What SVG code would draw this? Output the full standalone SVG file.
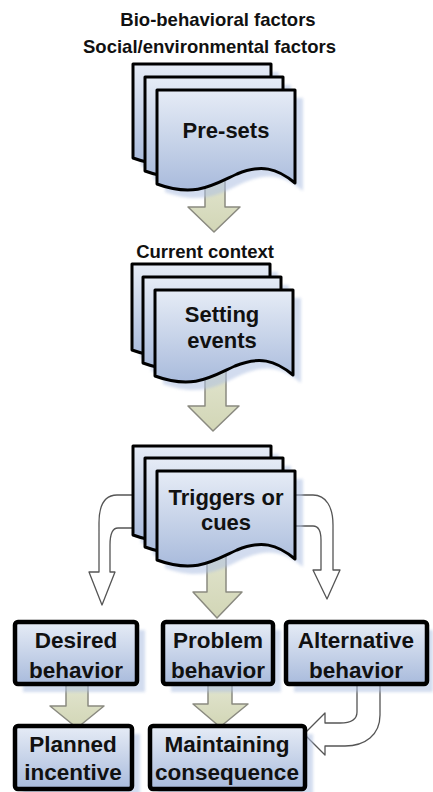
<svg xmlns="http://www.w3.org/2000/svg" width="433" height="792" viewBox="0 0 433 792">
<defs>
<linearGradient id="blue" x1="0" y1="0" x2="0" y2="1">
<stop offset="0" stop-color="#e6ecf6"/>
<stop offset="1" stop-color="#a9bbdc"/>
</linearGradient>
<linearGradient id="khaki" x1="0" y1="0" x2="0" y2="1">
<stop offset="0" stop-color="#e2e5cf"/>
<stop offset="1" stop-color="#d2d6b6"/>
</linearGradient>
<filter id="blur" x="-10%" y="-10%" width="130%" height="130%">
<feGaussianBlur stdDeviation="1.5"/>
</filter>
<path id="docA" d="M0,0 H138 V93 C120,78 104,74 80,84 C56,95 38,108 0,94 Z"/>
<path id="docB" d="M0,0 H138 V85 C120,70 104,66 80,76 C56,87 38,100 0,86 Z"/>
<path id="docC" d="M0,0 H138 V88 C120,73 104,69 80,79 C56,90 38,103 0,89 Z"/>
</defs>
<style>
.sheet{fill:url(#blue);stroke:#000;stroke-width:3;stroke-linejoin:round}
.shadow{fill:#aec0e2;opacity:0.55;filter:url(#blur)}
.box{fill:url(#blue);stroke:#000;stroke-width:4.5;stroke-linejoin:round}
.blk{fill:url(#khaki);stroke:#8a8a80;stroke-width:1.5;stroke-linejoin:round}
.wht{fill:#fff;stroke:#555;stroke-width:1.3;stroke-linejoin:round}
.t{font-family:"Liberation Sans",Arial,sans-serif;font-weight:bold;fill:#111;text-anchor:middle}
.s{font-size:18.5px}
.m{font-size:22px}
.l{font-size:22.5px}
</style>
<rect width="433" height="792" fill="#fff"/>

<g id="labels">
<text class="t s" x="218" y="26">Bio-behavioral factors</text>
<text class="t s" x="209.5" y="53">Social/environmental factors</text>
<text class="t s" x="205" y="258">Current context</text>
</g>

<g id="connectors">
<path class="blk" d="M205,175 H225 V207 H240 L214,232 L188,207 H205 Z"/>
<path class="blk" d="M205,365 H226 V406 H239 L213,431 L188,406 H205 Z"/>
<path class="blk" d="M207,548 H226 V592 H242 L217,618 L193,592 H207 Z"/>
<path class="wht" d="M136,495 H117 C104,495 99,505 99,523 V572 H89 L102,605 L115,572 H110 V545 C110,533 113,528 118,528 H136"/>
<path class="wht" d="M292,495 H313 C326,495 333,507 333,525 V570 H340 L327,599 L313,570 H321 V540 C321,531 318,526 313,526 H292"/>
<path class="blk" d="M66,683 H88 V706 H104 L77,728 L50,706 H66 Z"/>
<path class="blk" d="M208,683 H232 V704 H248 L220,727 L193,704 H208 Z"/>
<path class="wht" d="M357,683 V712 C357,720 350,723 340,723 H325 V713 L304,734 L325,755 V746 H345 C365,746 380,735 380,715 V683"/>
</g>

<g id="presets">
<use href="#docA" class="shadow" transform="translate(141,72)"/>
<use href="#docA" class="shadow" transform="translate(153,85)"/>
<use href="#docA" class="shadow" transform="translate(165,98)"/>
<use href="#docA" class="sheet" transform="translate(133,64)"/>
<use href="#docA" class="sheet" transform="translate(145,77)"/>
<use href="#docA" class="sheet" transform="translate(157,90)"/>
<text class="t m" x="226" y="138">Pre-sets</text>
</g>

<g id="setting-events">
<use href="#docB" class="shadow" transform="translate(140,272)"/>
<use href="#docB" class="shadow" transform="translate(151,285)"/>
<use href="#docB" class="shadow" transform="translate(163,298)"/>
<use href="#docB" class="sheet" transform="translate(132,264)"/>
<use href="#docB" class="sheet" transform="translate(143,277)"/>
<use href="#docB" class="sheet" transform="translate(155,290)"/>
<text class="t m" x="222" y="322">Setting</text>
<text class="t m" x="222" y="348">events</text>
</g>

<g id="triggers">
<use href="#docC" class="shadow" transform="translate(141,454)"/>
<use href="#docC" class="shadow" transform="translate(153,466)"/>
<use href="#docC" class="shadow" transform="translate(165,479)"/>
<use href="#docC" class="sheet" transform="translate(133,446)"/>
<use href="#docC" class="sheet" transform="translate(145,458)"/>
<use href="#docC" class="sheet" transform="translate(157,471)"/>
<text class="t m" x="226" y="505">Triggers or</text>
<text class="t m" x="226" y="530">cues</text>
</g>

<g id="desired">
<rect class="shadow" x="23" y="630" width="122" height="62"/>
<rect class="box" x="15" y="622" width="122" height="62" rx="3"/>
<text class="t l" x="76" y="648">Desired</text>
<text class="t l" x="76" y="678">behavior</text>
</g>

<g id="problem">
<rect class="shadow" x="171" y="630" width="110" height="62"/>
<rect class="box" x="163" y="622" width="110" height="62" rx="3"/>
<text class="t l" x="218" y="648">Problem</text>
<text class="t l" x="218" y="678">behavior</text>
</g>

<g id="alternative">
<rect class="shadow" x="294" y="630" width="139" height="62"/>
<rect class="box" x="286" y="622" width="141" height="62" rx="3"/>
<text class="t l" x="356" y="648">Alternative</text>
<text class="t l" x="356" y="678">behavior</text>
</g>

<g id="planned">
<rect class="shadow" x="23" y="734" width="117" height="63"/>
<rect class="box" x="15" y="726" width="117" height="63" rx="3"/>
<text class="t l" x="73" y="752">Planned</text>
<text class="t l" x="73" y="780">incentive</text>
</g>

<g id="maintaining">
<rect class="shadow" x="158" y="734" width="155" height="63"/>
<rect class="box" x="150" y="726" width="155" height="63" rx="3"/>
<text class="t l" x="227" y="752">Maintaining</text>
<text class="t l" x="227" y="780">consequence</text>
</g>
</svg>
